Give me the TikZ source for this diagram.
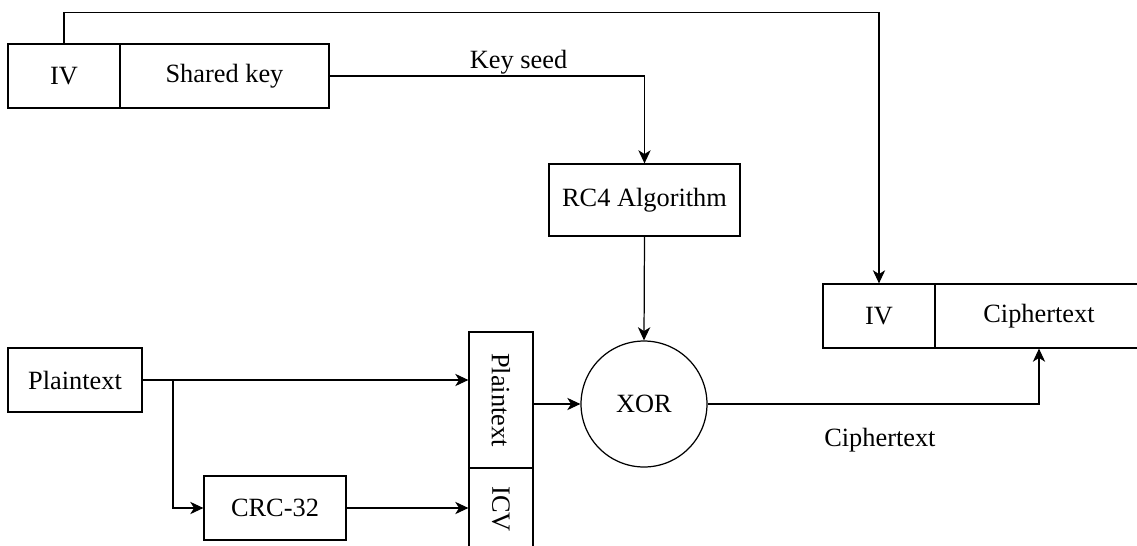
\documentclass[tikz,border=0pt]{standalone}
\usepackage{fontspec}
\setmainfont{Liberation Serif}
\usetikzlibrary{arrows.meta}
\begin{document}
\begin{tikzpicture}
    [
    x=0.02cm, y=-0.02cm,
    font=\fontsize{15}{18}\selectfont,
    line width=0.7pt,
    >={Stealth[length=7.5pt,width=7pt,inset=2.2pt]},
    box/.style={rectangle,draw,inner sep=0pt,minimum height=1.28cm},
    ]
    \useasboundingbox (0,0) rectangle (1137,545);
    % key part
    \node (iv1) at (64,76) [box,minimum width=2.24cm] {IV};
    \node (key) at (224.5,76) [box,minimum width=4.18cm] {Shared key};
    \node (rc4) at (644.5,200) [box,minimum width=3.82cm,minimum height=1.44cm] {RC4 Algorithm};
    \node (xor) at (644,404) [circle,draw,inner sep=0pt,minimum size=2.52cm] {XOR};
    % output frame
    \node (iv2) at (879,316) [box,minimum width=2.24cm] {IV};
    \node (cipher) at (1039,316) [box,minimum width=4.16cm] {Ciphertext};
    % plaintext part
    \node (pt) at (75,380) [box,minimum width=2.68cm] {Plaintext};
    \node (crc) at (275,508) [box,minimum width=2.84cm] {CRC-32};
    \node (ptx) at (501,400) [box,minimum width=1.28cm,minimum height=2.72cm] {\rotatebox{-90}{Plaintext}};
    \node (icv) at (501,509) [box,minimum width=1.28cm,minimum height=1.64cm] {\rotatebox{-90}{ICV}};
    \coordinate (br) at (173,380);
    \draw [->] (iv1.north) -- ++(0,-31) -| (iv2.north);
    \draw [->] (key.east) -| node[above,pos=0.3,inner sep=0.5pt] {Key seed} (rc4.north);
    \draw [->] (rc4.south) to (xor.north);
    \draw [->] (pt.east) to (pt.east -| ptx.west);
    \draw [->] (br) |- (crc.west);
    \draw [->] (crc.east) to (crc.east -| icv.west);
    \draw [->] (ptx.east |- xor.west) to (xor.west);
    \draw [->] (xor.east) -| node[below=10pt,pos=0.26] {Ciphertext} (cipher.south);
  \end{tikzpicture}
\end{document}
